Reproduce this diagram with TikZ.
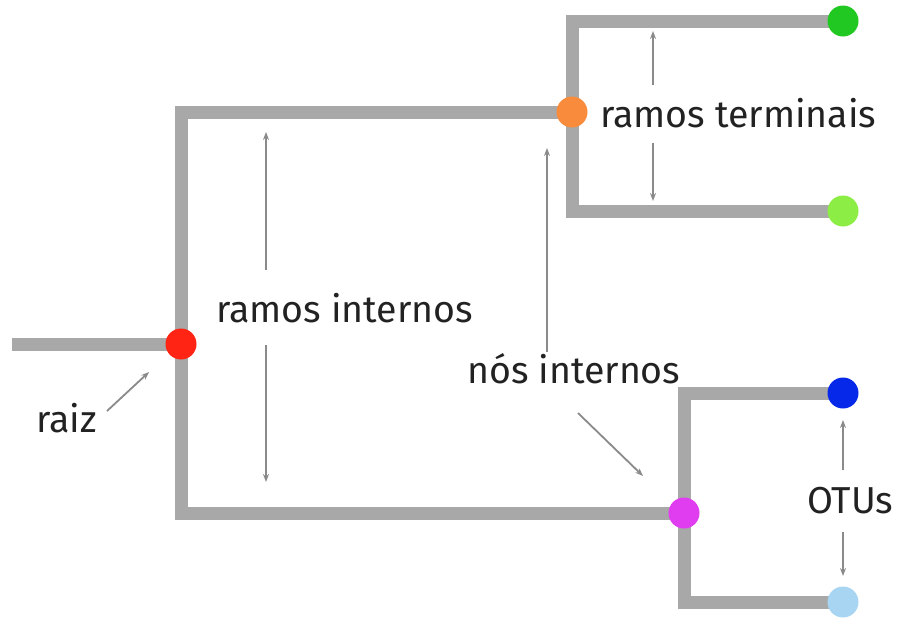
\documentclass[tikz,border=0pt]{standalone}
\usepackage{fontspec}
\setmainfont{Fira Sans}
\usetikzlibrary{arrows.meta,backgrounds}
\definecolor{branchgray}{HTML}{A8A8A8}
\definecolor{arrowgray}{HTML}{8A8A8A}
\definecolor{txt}{HTML}{222222}
\definecolor{cred}{HTML}{FF2414}
\definecolor{corange}{HTML}{F98C3C}
\definecolor{cgreen}{HTML}{22C822}
\definecolor{clgreen}{HTML}{8CEE44}
\definecolor{cblue}{HTML}{0628E8}
\definecolor{clblue}{HTML}{A8D6F2}
\definecolor{cmag}{HTML}{E03CF0}
\tikzset{
  branch/.style={draw=branchgray, line width=13pt, line join=miter, line cap=butt},
  dot/.style={circle, inner sep=0pt, minimum size=31pt, fill=#1},
  ptr/.style={draw=arrowgray, line width=1.8pt, -{Stealth[length=8pt,width=6pt]}},
  lbl/.style={text=txt, font=\fontsize{37.5}{42}\selectfont, inner sep=0pt, anchor=base west}
}
\begin{document}
\begin{tikzpicture}[x=1pt,y=-1pt]
\useasboundingbox (0,0) rectangle (902,619);
% dots
\node[dot=cred] (red) at (181,344) {};
\node[dot=corange] (orange) at (572,112) {};
\node[dot=cmag] (mag) at (684,513) {};
\node[dot=cgreen] (g1) at (843,21) {};
\node[dot=clgreen] (g2) at (843,211) {};
\node[dot=cblue] (b1) at (843,393) {};
\node[dot=clblue] (b2) at (843,602) {};
\coordinate (rootend) at (12,344);
\begin{pgfonlayer}{background}
\draw[branch] (rootend) -- (red.center);
\draw[branch] (red.center) |- (orange.center);
\draw[branch] (red.center) |- (mag.center);
\draw[branch] (orange.center) |- (g1.center);
\draw[branch] (orange.center) |- (g2.center);
\draw[branch] (mag.center) |- (b1.center);
\draw[branch] (mag.center) |- (b2.center);
\end{pgfonlayer}
% labels
\node[lbl] (raiz) at (36,432) {raiz};
\node[lbl] (ri) at (216,322) {ramos internos};
\node[lbl] (rt) at (600,127) {ramos terminais};
\node[lbl] (ni) at (467,383) {nós internos};
\node[lbl] (otu) at (807,513) {OTUs};
% pointers
\coordinate (raizA) at (107,411); \coordinate (raizB) at (149,372);
\draw[ptr] (raizA) -- (raizB);
\coordinate (riU0) at (266,270); \coordinate (riU1) at (266,132);
\draw[ptr] (riU0) -- (riU1);
\coordinate (riD0) at (266,345); \coordinate (riD1) at (266,482);
\draw[ptr] (riD0) -- (riD1);
\coordinate (rtU0) at (653,85); \coordinate (rtU1) at (653,31);
\draw[ptr] (rtU0) -- (rtU1);
\coordinate (rtD0) at (653,143); \coordinate (rtD1) at (653,201);
\draw[ptr] (rtD0) -- (rtD1);
\coordinate (niU0) at (547,352); \coordinate (niU1) at (547,148);
\draw[ptr] (niU0) -- (niU1);
\coordinate (niD0) at (578,413); \coordinate (niD1) at (643,476);
\draw[ptr] (niD0) -- (niD1);
\coordinate (oU0) at (843,470); \coordinate (oU1) at (843,420);
\draw[ptr] (oU0) -- (oU1);
\coordinate (oD0) at (843,532); \coordinate (oD1) at (843,576);
\draw[ptr] (oD0) -- (oD1);
\end{tikzpicture}
\end{document}
